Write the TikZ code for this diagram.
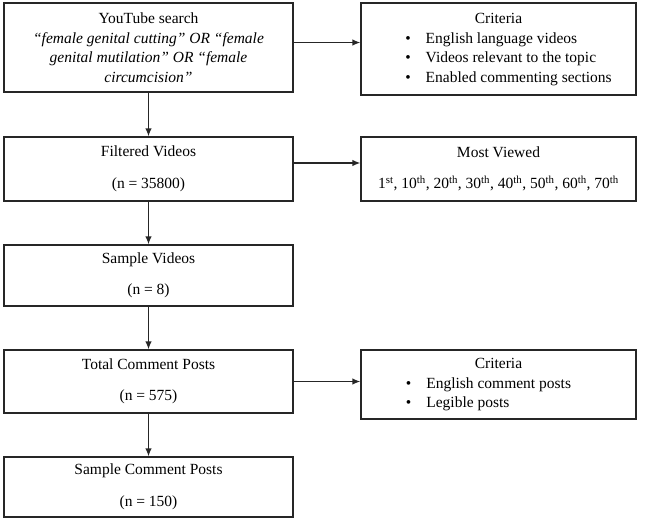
\documentclass[tikz,border=0pt]{standalone}
\usepackage{fontspec}
\setmainfont{Liberation Serif}
\usepackage{tikz}
\usetikzlibrary{arrows.meta}

\tikzset{
	stage/.style={draw=black!85, line width=1.3pt, minimum width=289pt, inner sep=0pt, align=center,
		font=\fontsize{15.5}{19.5}\selectfont},
	side/.style={stage, minimum width=275pt},
	flow/.style={draw=black!85, line width=1.3pt, -{Latex[length=8pt,width=6.5pt]}}
}

\begin{document}
\begin{tikzpicture}[x=1pt, y=-1pt]
		\useasboundingbox (0, 0) rectangle (645, 520);

		% left column
		\node[stage, minimum height=89pt] at (148.5, 47.5) (search) {YouTube search\\
			\textit{``female genital cutting'' OR ``female}\\
			\textit{genital mutilation'' OR ``female}\\
			\textit{circumcision''}};
		\node[stage, minimum height=64pt] at (148.5, 169) (filtered) {Filtered Videos\\[12pt](n = 35800)};
		\node[stage, minimum height=61pt] at (148.5, 275.5) (sample) {Sample Videos\\[12pt](n = 8)};
		\node[stage, minimum height=63pt] at (148.5, 381.5) (total) {Total Comment Posts\\[12pt](n = 575)};
		\node[stage, minimum height=60pt] at (148.5, 487) (final) {Sample Comment Posts\\[12pt](n = 150)};

		% right column
		\node[side, minimum height=92pt] at (498.5, 49) (crit1) {%
			\begin{tabular}{@{\hspace{20pt}}l@{\hspace{15pt}}l@{}}
				\multicolumn{2}{c}{Criteria}\\
				\textbullet & English language videos\\
				\textbullet & Videos relevant to the topic\\
				\textbullet & Enabled commenting sections
			\end{tabular}};
		\node[side, minimum height=64pt] at (498.5, 169) (viewed) {Most Viewed\\[12pt]
			1\textsuperscript{st}, 10\textsuperscript{th}, 20\textsuperscript{th}, 30\textsuperscript{th},
			40\textsuperscript{th}, 50\textsuperscript{th}, 60\textsuperscript{th}, 70\textsuperscript{th}};
		\node[side, minimum height=69pt] at (498.5, 384.5) (crit2) {%
			\begin{tabular}{@{}l@{\hspace{15pt}}l@{\hspace{20pt}}}
				\multicolumn{2}{c}{Criteria}\\
				\textbullet & English comment posts\\
				\textbullet & Legible posts
			\end{tabular}};

		% connectors
		\draw[flow] (search) -- (filtered);
		\draw[flow] (filtered) -- (sample);
		\draw[flow] (sample) -- (total);
		\draw[flow] (total) -- (final);
		\draw[flow] ([yshift=5pt]search.east) -- ([yshift=5pt]search.east -| crit1.west);
		\draw[flow] ([yshift=6pt]filtered.east) -- ([yshift=6pt]filtered.east -| viewed.west);
		\draw[flow] (total.east) -- (total.east -| crit2.west);
	\end{tikzpicture}
\end{document}
